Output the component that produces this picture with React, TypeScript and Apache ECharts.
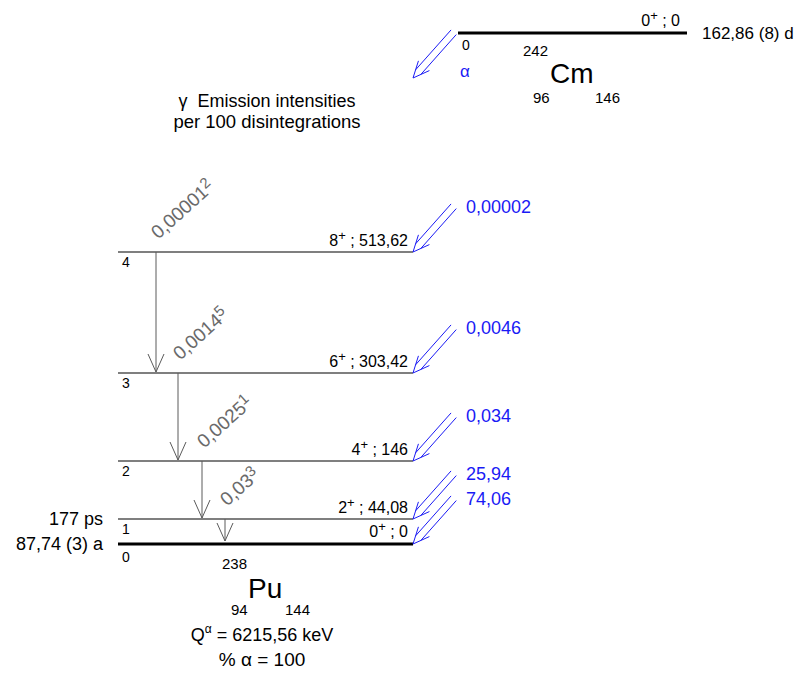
import React, { useEffect, useRef } from "react";
import * as echarts from "echarts";

const FONT = "'Liberation Sans', Arial, Helvetica, sans-serif";
const BLUE = "#1a1af5";
const GRAY = "#5a5a5a";
const LEVEL_GRAY = "#555555";

// Parent nuclide: 242Cm
const parentSymbol = "Cm";
const parentA = "242";
const parentZ = "96";
const parentN = "146";
const parentHalfLife = "162,86 (8) d";
const parentSpin = "0";
const parentParity = "+";
const parentEnergy = "0";

// Daughter nuclide: 238Pu
const daughterSymbol = "Pu";
const daughterA = "238";
const daughterZ = "94";
const daughterN = "144";
const qAlpha = "6215,56 keV";
const alphaPercent = "100";

// Daughter levels (index 0..4)
const levelSpins = ["0", "2", "4", "6", "8"];
const levelParity = ["+", "+", "+", "+", "+"];
const levelEnergies = ["0", "44,08", "146", "303,42", "513,62"];
const levelHalfLives = ["87,74 (3) a", "177 ps", "", "", ""];
const alphaIntensities = ["74,06", "25,94", "0,034", "0,0046", "0,00002"];

// Gamma transitions
const gammaFrom = [4, 3, 2, 1];
const gammaTo = [3, 2, 1, 0];
const gammaIntensity = ["0,00001", "0,0014", "0,0025", "0,03"];
const gammaUncert = ["2", "5", "1", "3"];

// Layout (diagram pixel space)
const levelY = [544, 519, 461, 373, 252];
const gammaX = [156, 178, 202, 225];
const LEVEL_X0 = 118;
const LEVEL_X1 = 413;
const PARENT_Y = 33;
const PARENT_X0 = 458;
const PARENT_X1 = 687;

function supRich(size: number, color: string, supSize?: number) {
  return {
    n: { fontSize: size, fontFamily: FONT, fill: color, lineHeight: size + 6 },
    s: { fontSize: supSize || Math.round(size * 0.72), fontFamily: FONT, fill: color, verticalAlign: "top" },
  };
}

function alphaArrow(api: any, tipX: number, tipY: number) {
  const tip = api.coord([tipX, tipY]);
  const bx = 40, by = -45;
  const L = Math.hypot(bx, by);
  const ux = bx / L, uy = by / L;
  const nx = -uy, ny = ux;
  const th = (24 * Math.PI) / 180;
  const arm = 18;
  const r1 = [ux * Math.cos(th) - uy * Math.sin(th), ux * Math.sin(th) + uy * Math.cos(th)];
  const r2 = [ux * Math.cos(-th) - uy * Math.sin(-th), ux * Math.sin(-th) + uy * Math.cos(-th)];
  const off = 3.5;
  const start = off / Math.tan(th);
  const els: any[] = [];
  [-1, 1].forEach((s) => {
    els.push({
      type: "line",
      shape: {
        x1: tip[0] + ux * start + nx * s * off,
        y1: tip[1] + uy * start + ny * s * off,
        x2: tip[0] + ux * (L + 1) + nx * s * off,
        y2: tip[1] + uy * (L + 1) + ny * s * off,
      },
      style: { stroke: BLUE, lineWidth: 1 },
    });
  });
  els.push({
    type: "polyline",
    shape: {
      points: [
        [tip[0] + r1[0] * arm, tip[1] + r1[1] * arm],
        [tip[0], tip[1]],
        [tip[0] + r2[0] * arm, tip[1] + r2[1] * arm],
      ],
    },
    style: { stroke: BLUE, lineWidth: 1, fill: "none" },
  });
  return els;
}

function txt(x: number, y: number, text: string, size: number, align = "left", color = "#000", vAlign = "middle") {
  return {
    type: "text",
    x,
    y,
    style: { text, fontSize: size, fontFamily: FONT, fill: color, align, verticalAlign: vAlign },
  };
}

const parentSeries = {
  type: "custom",
  coordinateSystem: "cartesian2d",
  data: [[0]],
  renderItem: (params: any, api: any) => {
    const a = api.coord([PARENT_X0, PARENT_Y]);
    const b = api.coord([PARENT_X1, PARENT_Y]);
    return {
      type: "group",
      children: [
        { type: "line", shape: { x1: a[0], y1: a[1], x2: b[0], y2: b[1] }, style: { stroke: "#000", lineWidth: 3 } },
        {
          type: "text",
          x: b[0] - 7,
          y: b[1] - 2,
          style: {
            text: `{n|${parentSpin}}{s|${parentParity}}{n| ; ${parentEnergy}}`,
            rich: supRich(16, "#000", 13),
            align: "right",
            verticalAlign: "bottom",
          },
        },
        txt(b[0] + 15, b[1], parentHalfLife, 17),
        txt(a[0] + 4, a[1] + 12, "0", 14),
        txt(a[0] + 2, a[1] + 38, "α", 17, "left", BLUE),
        ...alphaArrow(api, PARENT_X0 - 45, PARENT_Y + 45),
      ],
    };
  },
};

const levelSeries = {
  type: "custom",
  coordinateSystem: "cartesian2d",
  data: levelEnergies.map((e, i) => [i]),
  renderItem: (params: any, api: any) => {
    const i = api.value(0);
    const y = levelY[i];
    const p0 = api.coord([LEVEL_X0, y]);
    const p1 = api.coord([LEVEL_X1, y]);
    const ground = i === 0;
    const children: any[] = [
      {
        type: "line",
        shape: { x1: p0[0], y1: p0[1], x2: p1[0], y2: p1[1] },
        style: { stroke: ground ? "#000" : LEVEL_GRAY, lineWidth: ground ? 3 : 1.5 },
      },
      {
        type: "text",
        x: p1[0] - 5,
        y: p1[1] - (ground ? 2 : 1),
        style: {
          text: `{n|${levelSpins[i]}}{s|${levelParity[i]}}{n| ; ${levelEnergies[i]}}`,
          rich: supRich(16, "#000", 13),
          align: "right",
          verticalAlign: "bottom",
        },
      },
      txt(p0[0] + 4, p0[1] + (ground ? 13 : 10), String(i), 14),
      ...alphaArrow(api, LEVEL_X1, y),
      txt(p1[0] + 53, p1[1] - 45, alphaIntensities[i], 18, "left", BLUE),
    ];
    if (levelHalfLives[i]) children.push(txt(p0[0] - 15, p0[1], levelHalfLives[i], 18, "right"));
    return { type: "group", children };
  },
};

const gammaSeries = {
  type: "custom",
  coordinateSystem: "cartesian2d",
  data: gammaFrom.map((f, i) => [f, gammaTo[i]]),
  renderItem: (params: any, api: any) => {
    const i = params.dataIndex;
    const from = api.value(0);
    const to = api.value(1);
    const top = api.coord([gammaX[i], levelY[from]]);
    const bot = api.coord([gammaX[i], levelY[to] - (to === 0 ? 3 : 1)]);
    return {
      type: "group",
      children: [
        { type: "line", shape: { x1: top[0], y1: top[1], x2: bot[0], y2: bot[1] }, style: { stroke: GRAY, lineWidth: 1 } },
        {
          type: "polyline",
          shape: { points: [[bot[0] - 8, bot[1] - 18], [bot[0], bot[1]], [bot[0] + 8, bot[1] - 18]] },
          style: { stroke: GRAY, lineWidth: 1, fill: "none" },
        },
        {
          type: "text",
          x: top[0] - 2,
          y: top[1] - 17,
          rotation: (42 * Math.PI) / 180,
          style: {
            text: `{n|${gammaIntensity[i]}}{s|${gammaUncert[i]}}`,
            rich: supRich(19, "#6a6a6a", 15),
            align: "left",
            verticalAlign: "middle",
          },
        },
      ],
    };
  },
};

const option = {
  animation: false,
  backgroundColor: "#fff",
  grid: { left: 0, right: 0, top: 0, bottom: 0 },
  xAxis: { type: "value", min: 0, max: 810, show: false },
  yAxis: { type: "value", min: 0, max: 674, inverse: true, show: false },
  graphic: [
    txt(523, 50, parentA, 15),
    txt(550, 73, parentSymbol, 28),
    txt(533, 97, parentZ, 15),
    txt(595, 97, parentN, 15),
    txt(267, 101, "γ  Emission intensities", 18, "center"),
    txt(267, 121, "per 100 disintegrations", 18.5, "center"),
    txt(222, 563, daughterA, 15),
    txt(248, 588, daughterSymbol, 28),
    txt(231, 609, daughterZ, 15),
    txt(285, 609, daughterN, 15),
    {
      type: "text",
      x: 262,
      y: 635,
      style: {
        text: `{n|Q}{s|α}{n| = ${qAlpha}}`,
        rich: supRich(18, "#000", 12),
        align: "center",
        verticalAlign: "middle",
      },
    },
    txt(262, 659, `% α = ${alphaPercent}`, 19, "center"),
  ],
  series: [parentSeries, levelSeries, gammaSeries],
};

export default function App() {
  const ref = useRef<HTMLDivElement>(null);
  useEffect(() => {
    const chart = echarts.init(ref.current!, null, { renderer: "svg" });
    chart.setOption(option as any);
    return () => chart.dispose();
  }, []);
  return (
    <div
      ref={ref}
      style={{ position: "fixed", left: 0, top: 0, width: 810, height: 674, background: "#fff" }}
    />
  );
}
